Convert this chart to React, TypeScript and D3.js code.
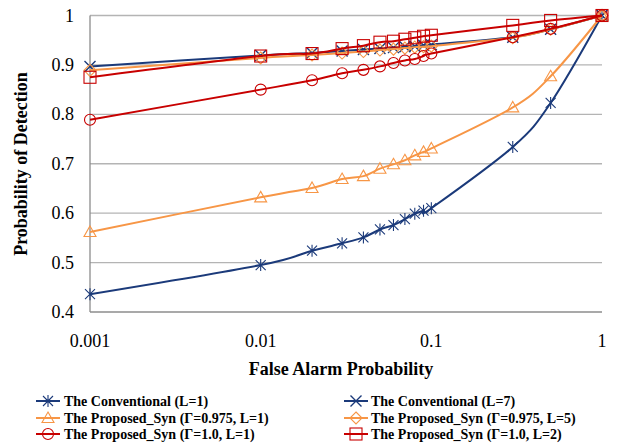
import React from "react";
import * as d3 from "d3";

const xValues = [0.001, 0.01, 0.02, 0.03, 0.04, 0.05, 0.06, 0.07, 0.08, 0.09, 0.1, 0.3, 0.5, 1];
const convL1 = [0.436, 0.495, 0.524, 0.539, 0.551, 0.567, 0.576, 0.588, 0.599, 0.605, 0.61, 0.734, 0.823, 1.0];
const convL7 = [0.897, 0.919, 0.924, 0.928, 0.931, 0.933, 0.935, 0.937, 0.938, 0.94, 0.941, 0.956, 0.972, 1.0];
const propG0975L1 = [0.562, 0.632, 0.651, 0.669, 0.675, 0.69, 0.699, 0.707, 0.717, 0.724, 0.731, 0.814, 0.877, 1.0];
const propG0975L5 = [0.889, 0.914, 0.92, 0.924, 0.927, 0.93, 0.932, 0.934, 0.936, 0.937, 0.938, 0.955, 0.972, 1.0];
const propG1L1 = [0.789, 0.85, 0.869, 0.883, 0.89, 0.897, 0.904, 0.909, 0.912, 0.918, 0.923, 0.956, 0.973, 1.0];
const propG1L2 = [0.875, 0.918, 0.923, 0.933, 0.939, 0.946, 0.948, 0.952, 0.955, 0.958, 0.96, 0.98, 0.99, 1.0];

const xTicks = [0.001, 0.01, 0.1, 1];
const xTickLabels = ["0.001", "0.01", "0.1", "1"];
const yTicks = [0.4, 0.5, 0.6, 0.7, 0.8, 0.9, 1.0];
const yTickLabels = ["0.4", "0.5", "0.6", "0.7", "0.8", "0.9", "1"];

const NAVY = "#1B3A7A";
const ORANGE = "#F79646";
const RED = "#C80000";

type Marker = "asterisk" | "x" | "triangle" | "diamond" | "circle" | "square";

const series: { name: string; values: number[]; color: string; marker: Marker }[] = [
  { name: "The Conventional (L=1)", values: convL1, color: NAVY, marker: "asterisk" },
  { name: "The Conventional (L=7)", values: convL7, color: NAVY, marker: "x" },
  { name: "The Proposed_Syn (Γ=0.975, L=1)", values: propG0975L1, color: ORANGE, marker: "triangle" },
  { name: "The Proposed_Syn (Γ=0.975, L=5)", values: propG0975L5, color: ORANGE, marker: "diamond" },
  { name: "The Proposed_Syn (Γ=1.0, L=1)", values: propG1L1, color: RED, marker: "circle" },
  { name: "The Proposed_Syn (Γ=1.0, L=2)", values: propG1L2, color: RED, marker: "square" },
];

function MarkerShape({ type, x, y, color }: { type: Marker; x: number; y: number; color: string }) {
  const sw = 1.1;
  switch (type) {
    case "asterisk":
      return (
        <path
          d={`M${x - 5},${y - 5}L${x + 5},${y + 5}M${x - 5},${y + 5}L${x + 5},${y - 5}M${x},${y - 6}L${x},${y + 6}`}
          stroke={color}
          strokeWidth={sw}
          fill="none"
        />
      );
    case "x":
      return (
        <path
          d={`M${x - 5.5},${y - 5.5}L${x + 5.5},${y + 5.5}M${x - 5.5},${y + 5.5}L${x + 5.5},${y - 5.5}`}
          stroke={color}
          strokeWidth={1.4}
          fill="none"
        />
      );
    case "triangle":
      return (
        <path
          d={`M${x},${y - 6}L${x + 6},${y + 4.5}L${x - 6},${y + 4.5}Z`}
          stroke={color}
          strokeWidth={sw}
          fill="none"
        />
      );
    case "diamond":
      return (
        <path
          d={`M${x},${y - 6}L${x + 6},${y}L${x},${y + 6}L${x - 6},${y}Z`}
          stroke={color}
          strokeWidth={sw}
          fill="none"
        />
      );
    case "circle":
      return <circle cx={x} cy={y} r={5.5} stroke={color} strokeWidth={sw} fill="none" />;
    case "square":
      return <rect x={x - 6} y={y - 6} width={12} height={12} stroke={color} strokeWidth={sw} fill="none" />;
  }
}

export default function App() {
  const W = 629;
  const H = 443;
  const x = d3.scaleLog().domain([0.001, 1]).range([90, 602]);
  const y = d3.scaleLinear().domain([0.4, 1]).range([312, 15.5]);
  const line = d3
    .line<[number, number]>()
    .x((d) => x(d[0]))
    .y((d) => y(d[1]))
    .curve(d3.curveCardinal.tension(0));

  const font = "'Liberation Serif', 'Times New Roman', serif";

  const legendRows = [401, 418, 434];
  const legendCols = [
    { x0: 36, x1: 60, tx: 64 },
    { x0: 344, x1: 368, tx: 371 },
  ];

  return (
    <svg
      width={W}
      height={H}
      style={{ position: "absolute", left: 0, top: 0, background: "#fff" }}
      fontFamily={font}
    >
      <rect x={0} y={0} width={W} height={H} fill="#fff" />
      {yTicks.map((t) => (
        <line
          key={"g" + t}
          x1={x(0.001)}
          x2={x(1)}
          y1={y(t)}
          y2={y(t)}
          stroke={t === 0.4 ? "#8C8C8C" : "#B4B4B4"}
          strokeWidth={1.3}
        />
      ))}
      <line x1={x(0.001)} x2={x(0.001)} y1={y(0.4)} y2={y(1)} stroke="#8C8C8C" strokeWidth={1.3} />
      {yTicks.map((t, i) => (
        <text key={"yl" + t} x={74} y={y(t) + 6} textAnchor="end" fontSize={18} fill="#000">
          {yTickLabels[i]}
        </text>
      ))}
      {xTicks.map((t, i) => (
        <text key={"xl" + t} x={x(t)} y={347} textAnchor="middle" fontSize={18} fill="#000">
          {xTickLabels[i]}
        </text>
      ))}
      <text x={341} y={375} textAnchor="middle" fontSize={18} fontWeight="bold">
        False Alarm Probability
      </text>
      <text
        transform={`translate(27,164) rotate(-90)`}
        textAnchor="middle"
        fontSize={18}
        fontWeight="bold"
      >
        Probability of Detection
      </text>
      {series.map((s) => {
        const pts: [number, number][] = xValues.map((v, i) => [v, s.values[i]]);
        return (
          <g key={s.name}>
            <path d={line(pts) || ""} stroke={s.color} strokeWidth={2} fill="none" />
            {pts.map((p, i) => (
              <MarkerShape key={i} type={s.marker} x={x(p[0])} y={y(p[1])} color={s.color} />
            ))}
          </g>
        );
      })}
      {series.map((s, i) => {
        const row = Math.floor(i / 2);
        const col = legendCols[i % 2];
        const ly = legendRows[row];
        return (
          <g key={"lg" + i}>
            <line x1={col.x0} x2={col.x1} y1={ly} y2={ly} stroke={s.color} strokeWidth={2} />
            <MarkerShape type={s.marker} x={(col.x0 + col.x1) / 2} y={ly} color={s.color} />
            <text x={col.tx} y={ly + 5} fontSize={14} fontWeight="bold" fill="#000">
              {s.name}
            </text>
          </g>
        );
      })}
    </svg>
  );
}
